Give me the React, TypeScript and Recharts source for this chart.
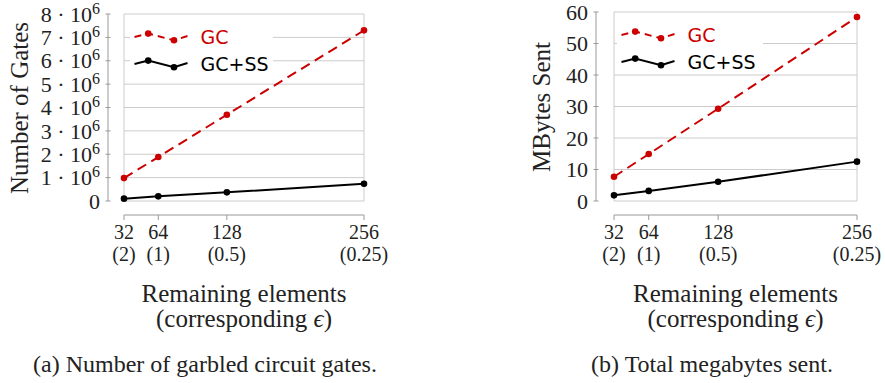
import React from 'react'
import { LineChart, Line, XAxis, YAxis, ReferenceLine, Legend } from 'recharts'

// remaining elements and the epsilon each one corresponds to
const elements = [32, 64, 128, 256]
const epsilons = ['(2)', '(1)', '(0.5)', '(0.25)']

// (a) number of garbled circuit gates
const gatesGC = [0.98e6, 1.88e6, 3.69e6, 7.3e6]
const gatesGCSS = [0.1e6, 0.2e6, 0.37e6, 0.74e6]
const gateTicks = [0, 1e6, 2e6, 3e6, 4e6, 5e6, 6e6, 7e6, 8e6]

// (b) total megabytes sent
const mbGC = [7.7, 14.9, 29.3, 58.4]
const mbGCSS = [1.8, 3.2, 6.1, 12.5]
const mbTicks = [0, 10, 20, 30, 40, 50, 60]

const RED = '#cc0000'
const GRID = '#cccccc'
const AXIS = '#999999'
const SERIF = '"Liberation Serif", "Times New Roman", serif'
const SANS = '"DejaVu Sans", sans-serif'
const AXIS_Y = 215 // page y of the detached x axis

const SERIES = [
  { key: 'gc', name: 'GC', color: RED, dash: '10 6' },
  { key: 'ss', name: 'GC+SS', color: '#000000', dash: undefined as string | undefined },
]

function XTick({ x, y, payload }: any) {
  const eps = epsilons[elements.indexOf(payload.value)]
  return (
    <g fontFamily={SERIF} fontSize={20} fill="#222">
      <text x={x} y={y + 19} textAnchor="middle">{payload.value}</text>
      <text x={x} y={y + 41} textAnchor="middle">{eps}</text>
    </g>
  )
}

function YTick({ x, y, payload, millions }: any) {
  const v = payload.value
  const ax = x + 8
  return (
    <g>
      <line x1={ax - 2.5} x2={ax + 2.5} y1={y} y2={y} stroke={AXIS} />
      <text x={x} y={y} dy="0.35em" textAnchor="end" fontFamily={SERIF} fontSize={22} fill="#222">
        {millions && v !== 0 ? (
          <>
            {`${v / 1e6} · 10`}
            <tspan dy={-8} fontSize={16}>6</tspan>
          </>
        ) : (
          String(v)
        )}
      </text>
    </g>
  )
}

function YTitle({ text, cx, cy }: any) {
  return (
    <text x={cx} y={cy} transform={`rotate(-90 ${cx} ${cy})`} textAnchor="middle"
      fontFamily={SERIF} fontSize={25} fill="#222">
      {text}
    </text>
  )
}

function XTitle({ cx, caption, captionX }: any) {
  return (
    <g fontFamily={SERIF} fill="#222">
      <text x={cx} y={302} textAnchor="middle" fontSize={25}>Remaining elements</text>
      <text x={cx} y={327} textAnchor="middle" fontSize={25}>
        (corresponding <tspan fontStyle="italic">ϵ</tspan>)
      </text>
      <text x={captionX} y={372} textAnchor="middle" fontSize={24}>{caption}</text>
    </g>
  )
}

function LegendBox({ w, h }: any) {
  const x0 = 4.5
  return (
    <svg width={w} height={h} style={{ display: 'block' }}>
      {SERIES.map((s, i) => {
        const ry = 20 + i * 27
        const pts: [number, number][] = [
          [x0, ry], [x0 + 13.7, ry - 3.4], [x0 + 39.5, ry + 3.3], [x0 + 53, ry - 1],
        ]
        return (
          <g key={s.key}>
            <polyline points={pts.map((p) => p.join(',')).join(' ')} fill="none"
              stroke={s.color} strokeWidth={2} strokeDasharray={s.dash ? '7 5' : undefined} />
            <circle cx={pts[1][0]} cy={pts[1][1]} r={3.3} fill={s.color} />
            <circle cx={pts[2][0]} cy={pts[2][1]} r={3.3} fill={s.color} />
            <text x={x0 + 66} y={ry + 7} fontFamily={SANS} fontSize={19} fill={s.color}>{s.name}</text>
          </g>
        )
      })}
    </svg>
  )
}

function Panel(p: any) {
  const data = elements.map((n, i) => ({ n, gc: p.gc[i], ss: p.ss[i] }))
  const yMax = p.yTicks[p.yTicks.length - 1]
  const x0 = elements[0]
  const x1 = elements[elements.length - 1]
  const xAxisHeight = 60
  return (
    <div style={{ position: 'absolute', left: p.left, top: 0 }}>
      <LineChart width={p.width} height={383} data={data}
        margin={{ top: p.top, right: p.right, bottom: 383 - AXIS_Y - xAxisHeight, left: 0 }}>
        {p.yTicks.map((t: number) => (
          <ReferenceLine key={'h' + t} segment={[{ x: x0, y: t }, { x: x1, y: t }]} stroke={GRID} />
        ))}
        {[x0, x1].map((v) => (
          <ReferenceLine key={'v' + v} segment={[{ x: v, y: 0 }, { x: v, y: yMax }]} stroke={GRID} />
        ))}
        <XAxis dataKey="n" type="number" domain={[x0, x1]} ticks={elements} interval={0}
          padding={{ left: p.padLeft, right: 0 }} height={xAxisHeight}
          axisLine={{ stroke: AXIS, strokeDasharray: `0 ${p.padLeft} 2000` }}
          tickLine={{ stroke: AXIS }} tickSize={5} tickMargin={0} tick={<XTick />}
          label={<XTitle cx={p.xTitleX} caption={p.caption} captionX={p.captionX} />} />
        <YAxis type="number" domain={[0, yMax]} ticks={p.yTicks} interval={0} width={p.yAxisWidth}
          padding={{ top: 0, bottom: p.padBottom }}
          axisLine={{ stroke: AXIS, strokeDasharray: `${AXIS_Y - p.top - p.padBottom} 2000` }}
          tickLine={false} tickSize={0} tickMargin={8} tick={<YTick millions={p.millions} />}
          label={<YTitle text={p.yTitle} cx={p.yTitleX} cy={p.yTitleY} />} />
        {SERIES.map((s) => (
          <Line key={s.key} dataKey={s.key} name={s.name} type="linear" stroke={s.color}
            strokeWidth={2} strokeDasharray={s.dash} dot={{ r: 3.3, fill: s.color, stroke: 'none' }}
            activeDot={false} isAnimationActive={false} />
        ))}
        <Legend layout="vertical" align="center" verticalAlign="middle"
          wrapperStyle={{ left: p.legend.left, top: p.legend.top, width: p.legend.w, height: p.legend.h, background: '#fff' }}
          content={<LegendBox w={p.legend.w} h={p.legend.h} />} />
      </LineChart>
    </div>
  )
}

export default function App() {
  return (
    <div style={{ position: 'absolute', left: 0, top: 0, width: 885, height: 383, background: '#fff' }}>
      <Panel left={0} width={420} yAxisWidth={108} top={14} right={56} padLeft={16} padBottom={14}
        gc={gatesGC} ss={gatesGCSS} yTicks={gateTicks} millions
        yTitle="Number of Gates" yTitleX={28} yTitleY={108}
        xTitleX={244} caption="(a) Number of garbled circuit gates." captionX={205}
        legend={{ left: 130, top: 17, w: 143, h: 59 }} />
      <Panel left={450} width={435} yAxisWidth={146} top={12} right={28} padLeft={18} padBottom={14}
        gc={mbGC} ss={mbGCSS} yTicks={mbTicks}
        yTitle="MBytes Sent" yTitleX={100} yTitleY={107}
        xTitleX={285.5} caption="(b) Total megabytes sent." captionX={262}
        legend={{ left: 167, top: 15, w: 146, h: 57 }} />
    </div>
  )
}
